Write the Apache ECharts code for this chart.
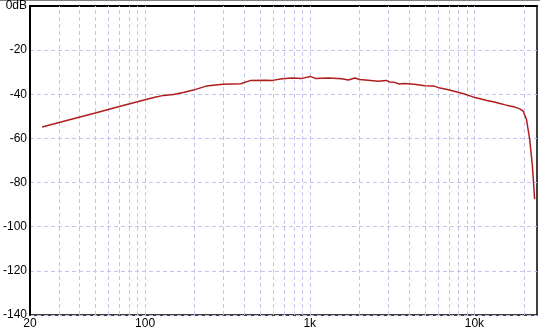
<!DOCTYPE html>
<html><head><meta charset="utf-8">
<script src="https://cdn.jsdelivr.net/npm/echarts@6/dist/echarts.min.js"></script>
<style>html,body{margin:0;padding:0;background:#fff}#c{width:540px;height:333px}</style>
</head><body><div id="c"></div>
<script>
// Frequency (Hz) and level (dB)
const freqs = [23.7, 32.5, 49.2, 74.5, 100, 112.8, 129.5, 148.7, 170.8, 196.2, 234.9, 297.1, 381.1, 437.7, 538.6, 593.5, 681.5, 782.6, 898.7, 1008, 1080, 1301, 1563, 1715, 1879, 2014, 2262, 2598, 2914, 3051, 3268, 3503, 3753, 4311, 5000, 5685, 6200, 6844, 7862, 8800, 9890, 11000, 11905, 13000, 14310, 15400, 16430, 17600, 18870, 19750, 20700, 21670, 22500, 23220];
const levels = [-54.8, -52.1, -48.6, -45.0, -42.5, -41.5, -40.5, -40.1, -39.2, -38.1, -36.3, -35.5, -35.2, -33.7, -33.6, -33.7, -33.0, -32.6, -32.8, -31.9, -32.8, -32.6, -33.0, -33.5, -32.6, -33.3, -33.6, -34.1, -33.7, -34.4, -34.6, -35.3, -35.1, -35.5, -36.1, -36.3, -37.2, -37.8, -39.0, -40.0, -41.3, -42.1, -42.8, -43.4, -44.2, -44.8, -45.3, -45.8, -46.6, -47.6, -51.3, -60.4, -72.4, -87.5];
const gridFreqs = [30, 40, 50, 60, 70, 80, 90, 100, 200, 300, 400, 500, 600, 700, 800, 900, 1000, 2000, 3000, 4000, 5000, 6000, 7000, 8000, 9000, 10000, 20000];
const xLabels = {20: '20', 100: '100', 1000: '1k', 10000: '10k'};
const yTicks = [0, -20, -40, -60, -80, -100, -120, -140];

const gridColor = '#c4c4ec';
const chart = echarts.init(document.getElementById('c'), null, {renderer: 'canvas'});
chart.setOption({
  animation: false,
  backgroundColor: '#fff',
  grid: {left: 25, right: 3, top: 5, bottom: 18, show: true, borderColor: '#000', borderWidth: 1.5, backgroundColor: '#fff'},
  xAxis: {
    type: 'log', logBase: 10, min: 20, max: 24000,
    axisLine: {show: true, lineStyle: {color: '#000', width: 2}},
    axisTick: {show: false},
    splitLine: {show: false},
    axisLabel: {
      color: '#000', fontFamily: 'Liberation Sans', fontSize: 12, margin: 3,
      showMaxLabel: false,
      formatter: v => { const r = Math.round(v); return xLabels[r] !== undefined ? xLabels[r] : ''; }
    }
  },
  yAxis: {
    type: 'value', min: -140, max: 0, interval: 20,
    axisLine: {show: true, lineStyle: {color: '#000', width: 2}},
    axisTick: {show: false},
    splitLine: {show: true, lineStyle: {color: gridColor, type: [4, 3], width: 1}},
    axisLabel: {
      color: '#000', fontFamily: 'Liberation Sans', fontSize: 12, margin: 3,
      formatter: v => yTicks.indexOf(v) === 0 ? '0dB' : String(v)
    }
  },
  series: [{
    type: 'line',
    data: freqs.map((f, i) => [f, levels[i]]),
    showSymbol: false,
    lineStyle: {color: '#b01c1c', width: 1.5},
    z: 5,
    markLine: {
      silent: true, symbol: 'none', label: {show: false},
      lineStyle: {color: gridColor, type: [4, 3], width: 1},
      data: gridFreqs.map(f => ({xAxis: f}))
    }
  }],
  graphic: [{type: 'rect', shape: {x: 0, y: 0, width: 540, height: 1}, style: {fill: '#808080'}}]
});
</script></body></html>
